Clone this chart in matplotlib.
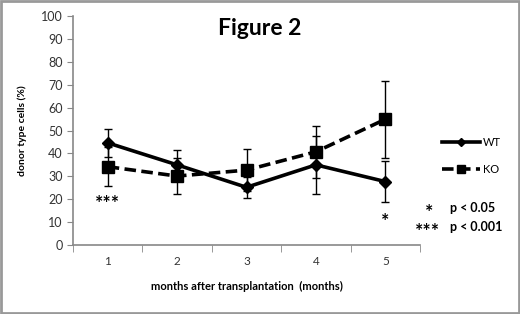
import numpy as np
import matplotlib
matplotlib.use("Agg")
import matplotlib.pyplot as plt
from matplotlib.patches import Rectangle

plt.rcParams['font.family'] = ['Lato', 'DejaVu Sans']

months = [1, 2, 3, 4, 5]
wt_mean = [44.6, 35.0, 25.2, 35.0, 27.7]
wt_err = [6.0, 6.5, 4.5, 12.8, 8.8]
ko_mean = [34.2, 30.1, 32.7, 40.7, 54.9]
ko_err = [8.4, 8.0, 9.3, 11.3, 16.7]

# significance marks: (month, baseline y, label)
sig_marks = [(1, 15.8, '***'), (5, 8.0, '*')]

fig = plt.figure(figsize=(5.2, 3.14), dpi=100)
ax = fig.add_axes([73/520, 1-245/314, 347/520, 229/314])

# error bars first, then the lines + markers (so the legend has no bars)
ax.errorbar(months, wt_mean, yerr=wt_err, fmt='none', ecolor='black', elinewidth=1,
            capsize=3, capthick=1)
ax.errorbar(months, ko_mean, yerr=ko_err, fmt='none', ecolor='black', elinewidth=1,
            capsize=3, capthick=1)
ax.plot(months, wt_mean, color='black', lw=2.6, marker='D', ms=6, label='WT')
ax.plot(months, ko_mean, color='black', lw=2.6, ls=(0, (3.2, 1.5)), marker='s', ms=8, label='KO')

for m, yv, lab in sig_marks:
    ax.text(m, yv, lab, ha='center', va='baseline', fontsize=14, fontweight='bold')

ax.set_xlim(0.5, 5.5)
ax.set_ylim(0, 100)
ax.set_yticks(np.arange(0, 101, 10))
ax.set_xticks(months)
ax.set_xticks(np.arange(0.5, 5.6, 1), minor=True)
ax.tick_params(axis='x', which='major', length=0, pad=8, labelsize=8.5, colors='#333333')
ax.tick_params(axis='x', which='minor', length=5, color='#888888')
ax.tick_params(axis='y', length=4, color='#888888', labelsize=9, labelcolor='#333333')
for s in ['top', 'right']:
    ax.spines[s].set_visible(False)
for s in ['left', 'bottom']:
    ax.spines[s].set_color('#888888')
    ax.spines[s].set_linewidth(1.2)

ax.set_xlabel('months after transplantation  (months)', fontsize=8, fontweight='bold', labelpad=10)
ax.set_ylabel('donor type cells (%)', fontsize=7.5, fontweight='bold', labelpad=10)
fig.text(260/520, 1-35/314, 'Figure 2', ha='center', va='baseline', fontsize=16.5, fontweight='bold')

ax.legend(loc='center left', bbox_to_anchor=(442/520, 1-156/314), bbox_transform=fig.transFigure,
          frameon=False, fontsize=8, handlelength=3.4, labelspacing=1.4, handletextpad=0.3,
          borderaxespad=0, borderpad=0, markerscale=0.7)

fig.text(429/520, 1-218/314, '*', ha='center', va='baseline', fontsize=14, fontweight='bold')
fig.text(450/520, 1-208/314, 'p < 0.05', ha='left', va='center', fontsize=9, fontweight='bold')
fig.text(428/520, 1-237/314, '***', ha='center', va='baseline', fontsize=14, fontweight='bold')
fig.text(450/520, 1-227/314, 'p < 0.001', ha='left', va='center', fontsize=9, fontweight='bold')

fig.patches.append(Rectangle((0.002, 0.003), 0.996, 0.994, transform=fig.transFigure,
                             fill=False, ec='#999999', lw=2))

fig.savefig('out.png', dpi=100)
